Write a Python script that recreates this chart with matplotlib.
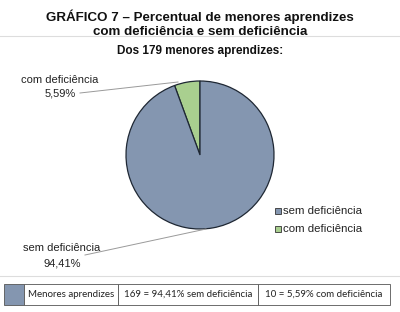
import matplotlib
matplotlib.use("Agg")
import matplotlib.pyplot as plt
from matplotlib.patches import Rectangle

# Data
categories = ["com deficiência", "sem deficiência"]
counts = [10, 169]
percent_labels = ["5,59%", "94,41%"]
colors = ["#A9CF8F", "#8496B0"]
legend_order = ["sem deficiência", "com deficiência"]
title = "GRÁFICO 7 – Percentual de menores aprendizes\ncom deficiência e sem deficiência"
subtitle = "Dos 179 menores aprendizes:"
table_cells = ["Menores aprendizes", "169 = 94,41% sem deficiência", "10 = 5,59% com deficiência"]

plt.rcParams['font.family'] = ['Liberation Sans', 'DejaVu Sans']

W, H = 400, 312
fig = plt.figure(figsize=(W / 100, H / 100), dpi=100)
ax = fig.add_axes([0, 0, 1, 1])


def Y(y):
    return H - y


# Pie
cx, cy, r = 200, 155, 74
wedges, _ = ax.pie(counts, colors=colors, startangle=90, counterclock=True,
                   center=(cx, Y(cy)), radius=r, frame=True,
                   wedgeprops=dict(edgecolor='#1E2733', linewidth=0.9))
ax.set_xlim(0, W)
ax.set_ylim(0, H)
ax.set_aspect('equal')
ax.axis('off')

# Title and subtitle
ax.text(200, Y(24), title, ha='center', va='center', fontsize=9.6, fontweight='bold',
        linespacing=1.2, color='#111111')
ax.plot([0, W], [Y(36), Y(36)], color='#DDDDDD', lw=0.8)
ax.text(200, Y(51), subtitle, ha='center', va='center', fontsize=8.5, fontweight='bold', color='#111111')

# Data labels with leader lines
ax.text(60, Y(80), categories[0], ha='center', va='center', fontsize=8, color='#222222')
ax.text(60, Y(93), percent_labels[0], ha='center', va='center', fontsize=8, color='#222222')
ax.plot([80, 178], [Y(93), Y(82)], color='#9A9A9A', lw=0.7)
ax.text(62, Y(248), categories[1], ha='center', va='center', fontsize=8, color='#222222')
ax.text(62, Y(263), percent_labels[1], ha='center', va='center', fontsize=8, color='#222222')
ax.plot([85, 206], [Y(255), Y(229)], color='#9A9A9A', lw=0.7)

# Legend
for i, name in enumerate(legend_order):
    y = 211 + i * 18
    col = colors[categories.index(name)]
    ax.add_patch(Rectangle((275, Y(y) - 3), 6, 6, facecolor=col, edgecolor='#333333', lw=0.6))
    ax.text(283, Y(y), name, ha='left', va='center', fontsize=8.2, color='#222222')

# Separator and table
ax.plot([0, W], [Y(276), Y(276)], color='#DDDDDD', lw=0.8)
ty0, ty1 = 284, 305
ax.add_patch(Rectangle((4, Y(ty1)), 20, ty1 - ty0, facecolor=colors[1], edgecolor='#555555', lw=0.6))
edges = [24, 118, 258, 390]
for i, txt in enumerate(table_cells):
    x0, x1 = edges[i], edges[i + 1]
    ax.add_patch(Rectangle((x0, Y(ty1)), x1 - x0, ty1 - ty0, facecolor='white', edgecolor='#555555', lw=0.6))
    ax.text((x0 + x1) / 2, Y((ty0 + ty1) / 2), txt, ha='center', va='center', fontsize=7,
            family=['Lato', 'DejaVu Sans'], color='#222222')

fig.savefig("out.png", dpi=100)
